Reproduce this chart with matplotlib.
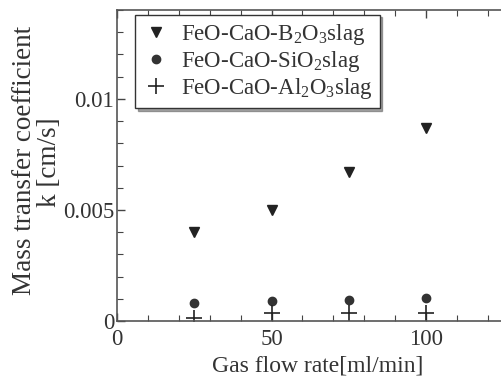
import matplotlib
matplotlib.use("Agg")
import matplotlib.pyplot as plt
from matplotlib.ticker import MultipleLocator, FixedLocator

plt.rcParams['font.family'] = ['Liberation Serif', 'DejaVu Serif']
plt.rcParams['mathtext.fontset'] = 'custom'
plt.rcParams['mathtext.rm'] = 'Liberation Serif'
plt.rcParams['mathtext.it'] = 'Liberation Serif'

flow = [25, 50, 75, 100]
k_b2o3 = [0.0040, 0.0050, 0.0067, 0.0087]
k_sio2 = [0.00082, 0.00090, 0.00095, 0.00105]
k_al2o3 = [0.00015, 0.00035, 0.00038, 0.00038]
labels = [r'FeO-CaO-B$_{\mathrm{2}}$O$_{\mathrm{3}}$slag',
          r'FeO-CaO-SiO$_{\mathrm{2}}$slag',
          r'FeO-CaO-Al$_{\mathrm{2}}$O$_{\mathrm{3}}$slag']
xticks = [0, 50, 100]
yticks = [0, 0.005, 0.01]
yticklabels = ['0', '0.005', '0.01']
ylabel_lines = ['Mass transfer coefficient', 'k [cm/s]']

W, H = 501, 385
fig = plt.figure(figsize=(W/100, H/100), dpi=100)
ax = fig.add_axes([117/W, 1-321/H, 401.7/W, 311/H])
c = '#222222'
ax.plot(flow, k_b2o3, linestyle='none', marker='v', ms=7, color=c, label=labels[0])
ax.plot(flow, k_sio2, linestyle='none', marker='o', ms=6, color='#333333', label=labels[1])
ax.plot(flow, k_al2o3, linestyle='none', marker='+', ms=11, mew=1.2, color=c, label=labels[2])

ax.set_xlim(0, 130)
ax.set_ylim(0, 0.014)
ax.xaxis.set_major_locator(FixedLocator(xticks))
ax.xaxis.set_minor_locator(MultipleLocator(10))
ax.yaxis.set_major_locator(FixedLocator(yticks))
ax.set_yticklabels(yticklabels)
ax.yaxis.set_minor_locator(MultipleLocator(0.001))
ax.tick_params(which='both', direction='in', top=True, right=True, colors='#444444',
               labelcolor='#333333', labelsize=16.5, pad=2)
ax.tick_params(axis='x', pad=6)
ax.tick_params(which='major', length=6, width=1)
ax.tick_params(which='minor', length=4, width=0.8)
for s in ax.spines.values():
    s.set_color('#555555')
    s.set_linewidth(1.2)

ax.set_xlabel('Gas flow rate[ml/min]', fontsize=17, color='#333333', labelpad=4)
fig.text(25/W, 1-160/H, ylabel_lines[0], rotation=90, ha='center', va='center',
         fontsize=19.5, color='#333333')
fig.text(50/W, 1-162/H, ylabel_lines[1], rotation=90, ha='center', va='center',
         fontsize=19.5, color='#333333')

leg = ax.legend(loc='upper left', bbox_to_anchor=(0.045, 0.985), borderaxespad=0,
                fontsize=16.5, frameon=True, fancybox=False, shadow=True,
                handletextpad=0.5, borderpad=0.3, labelspacing=0.1, handlelength=1.2)
leg.get_frame().set_edgecolor('#333333')
leg.get_frame().set_linewidth(1.0)
for t in leg.get_texts():
    t.set_color('#333333')

fig.savefig('out.png', dpi=100)
